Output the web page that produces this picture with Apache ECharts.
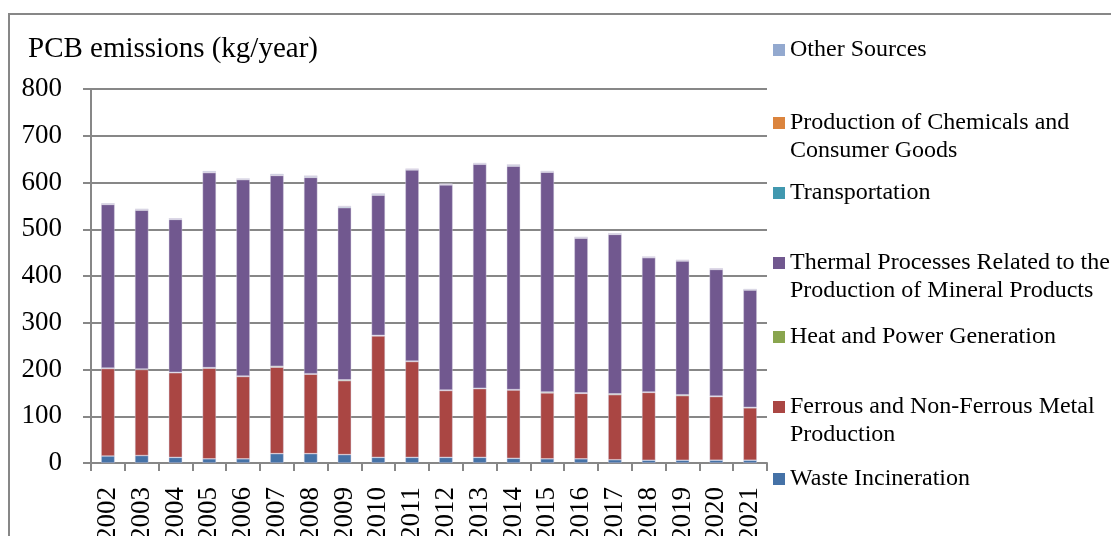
<!DOCTYPE html>
<html>
<head>
<meta charset="utf-8">
<script src="https://cdn.jsdelivr.net/npm/echarts@6/dist/echarts.min.js"></script>
<style>
  html, body { margin: 0; padding: 0; background: #fff; }
  #chart { width: 1111px; height: 536px; }
</style>
</head>
<body>
<div id="chart"></div>
<script>
const years = ["2002","2003","2004","2005","2006","2007","2008","2009","2010","2011",
               "2012","2013","2014","2015","2016","2017","2018","2019","2020","2021"];

// kg/year
const waste     = [15, 16, 12, 9, 9, 20, 20, 18, 12, 12, 12, 12, 10, 9, 9, 7, 6, 6, 6, 6];
const ferrous   = [187, 184, 181, 194, 176, 185, 170, 158, 260, 205, 143, 147, 146, 141, 140, 139, 145, 138, 136, 112];
const heat      = [1, 1, 1, 1, 1, 2, 1, 2, 1, 1, 1, 1, 1, 2, 1, 2, 1, 2, 1, 1];
const thermal   = [350, 340, 327, 417, 420, 408, 420, 368, 300, 409, 439, 479, 478, 470, 331, 341, 287, 286, 271, 251];
const transport = [1, 1, 1, 1, 1, 1, 2, 2, 2, 1, 1, 1, 2, 1, 1, 1, 1, 1, 1, 0.5];
const chemicals = [0.5, 0.5, 0.5, 0.5, 0.5, 0.5, 0.5, 0.5, 0.5, 0.5, 0.5, 0.5, 0.5, 0.5, 0.5, 0.5, 0.5, 0.5, 0.5, 0.5];
const other     = [1, 1, 1, 2, 1, 2, 1, 1, 1, 1, 1, 1, 1, 1, 1, 1, 1, 1, 1, 1];

const yTicks = { min: 0, max: 800, interval: 100 };

const SERIF = "'Liberation Serif', 'Times New Roman', serif";
const GRAY = "#878787";

const seriesDefs = [
  { name: "Waste Incineration", data: waste, color: "#4572A7" },
  { name: "Ferrous and Non-Ferrous Metal\nProduction", data: ferrous, color: "#AA4643" },
  { name: "Heat and Power Generation", data: heat, color: "#89A54E" },
  { name: "Thermal Processes Related to the\nProduction of Mineral Products", data: thermal, color: "#71588F" },
  { name: "Transportation", data: transport, color: "#4198AF" },
  { name: "Production of Chemicals and\nConsumer Goods", data: chemicals, color: "#DB843D" },
  { name: "Other Sources", data: other, color: "#93A9CF" }
];

// legend rows (top of each entry), top to bottom in reverse series order
const legendTops = [465, 393, 323, 249, 179, 109, 36];

const chart = echarts.init(document.getElementById("chart"));

const legends = seriesDefs.map((s, i) => {
  const twoLine = s.name.indexOf("\n") >= 0;
  return {
    orient: "vertical",
    left: 773,
    top: legendTops[i],
    padding: 0,
    itemWidth: 12,
    itemHeight: twoLine ? 40 : 12,
    // two-line entries: square sits beside the first line
    icon: twoLine ? "path://M0,0L12,0L12,12L0,12Z M0,40L12,40" : "rect",
    itemStyle: { borderWidth: 0 },
    textStyle: { fontFamily: SERIF, fontSize: 24, color: "#000", lineHeight: 28 },
    data: [s.name]
  };
});

chart.setOption({
  animation: false,
  textStyle: { fontFamily: SERIF },
  graphic: [
    {
      type: "rect",
      shape: { x: 9, y: 14, width: 1300, height: 700 },
      style: { fill: "none", stroke: GRAY, lineWidth: 2 },
      silent: true
    },
    {
      type: "text",
      left: 28,
      top: 35,
      style: { text: "PCB emissions (kg/year)", fontFamily: SERIF, fontSize: 29, fill: "#000" }
    }
  ],
  legend: legends,
  grid: { left: 91, right: 344, top: 89, bottom: 73, containLabel: false, outerBoundsMode: "none" },
  xAxis: {
    type: "category",
    data: years,
    boundaryGap: true,
    axisLine: { lineStyle: { color: GRAY, width: 2 } },
    axisTick: { show: true, length: 8, alignWithLabel: false, lineStyle: { color: GRAY, width: 2 } },
    axisLabel: { rotate: 90, margin: 24, fontFamily: SERIF, fontSize: 27, color: "#000", interval: 0 }
  },
  yAxis: {
    type: "value",
    min: yTicks.min,
    max: yTicks.max,
    interval: yTicks.interval,
    axisLine: { show: true, lineStyle: { color: GRAY, width: 2 } },
    axisTick: { show: true, length: 8, lineStyle: { color: GRAY, width: 2 } },
    axisLabel: { margin: 29, fontFamily: SERIF, fontSize: 27, color: "#000" },
    splitLine: { lineStyle: { color: GRAY, width: 2 } }
  },
  series: seriesDefs.map(s => ({
    name: s.name,
    type: "bar",
    stack: "total",
    data: s.data,
    barWidth: "40%",
    itemStyle: { color: s.color, borderColor: "rgba(215,210,225,0.7)", borderWidth: 0.6 },
    emphasis: { disabled: true }
  }))
});
</script>
</body>
</html>
